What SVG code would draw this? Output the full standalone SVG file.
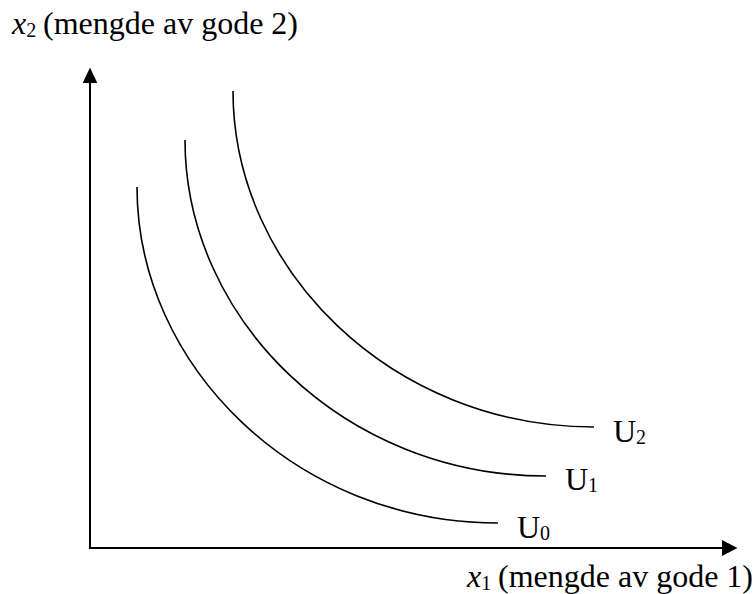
<svg xmlns="http://www.w3.org/2000/svg" width="756" height="594" viewBox="0 0 756 594">
<style>
.axis{stroke:#000;stroke-width:2;fill:none}
.curve{stroke:#000;stroke-width:1.6;fill:none}
.lbl{font-family:"Liberation Serif","Times New Roman",serif;font-size:32px;fill:#000}
.sub{font-size:20px}
</style>
<defs>
<path id="ic" d="M137,187 C137,366 296,523 498,523"/>
</defs>
<rect width="756" height="594" fill="#fff"/>
<g id="connectors">
<line class="axis" x1="90" y1="549" x2="90" y2="80"/>
<polygon points="90,67.5 82.7,83 97.3,83" fill="#000"/>
<line class="axis" x1="89" y1="548" x2="724" y2="548"/>
<polygon points="737.5,548 722,540 722,556" fill="#000"/>
</g>
<g id="U0">
<use href="#ic" class="curve"/>
<text class="lbl" x="517" y="538">U<tspan class="sub" dy="2">0</tspan></text>
</g>
<g id="U1">
<use href="#ic" class="curve" transform="translate(48,-47)"/>
<text class="lbl" x="565" y="490">U<tspan class="sub" dy="2">1</tspan></text>
</g>
<g id="U2">
<use href="#ic" class="curve" transform="translate(96,-96)"/>
<text class="lbl" x="613" y="442">U<tspan class="sub" dy="2">2</tspan></text>
</g>
<g id="ylabel">
<text class="lbl" x="12" y="34"><tspan font-style="italic">x</tspan><tspan class="sub" dy="3">2</tspan><tspan x="43" dy="-3">(mengde av gode 2)</tspan></text>
</g>
<g id="xlabel">
<text class="lbl" x="467" y="587"><tspan font-style="italic">x</tspan><tspan class="sub" dy="3">1</tspan><tspan x="498" dy="-3">(mengde av gode 1)</tspan></text>
</g>
</svg>
